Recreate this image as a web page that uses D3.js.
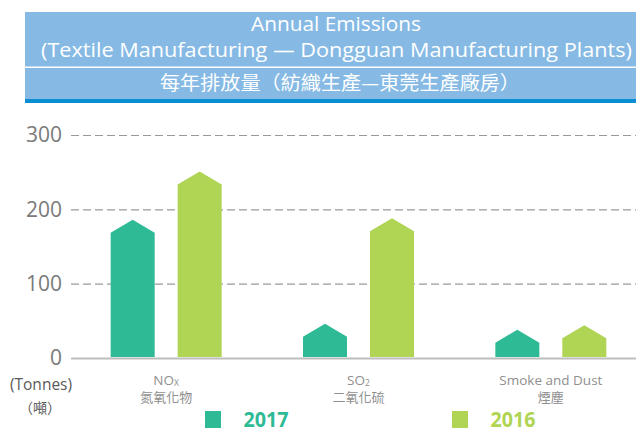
<!DOCTYPE html>
<html>
<head>
<meta charset="utf-8">
<script src="https://d3js.org/d3.v7.min.js"></script>
<style>
  body { margin: 0; background: #fff; }
  svg text { font-family: "Open Sans", "Noto Sans", sans-serif; }
  .cjk { font-family: "Noto Sans CJK TC", "Noto Sans CJK SC", sans-serif; }
</style>
</head>
<body>
<div id="chart"></div>
<script>
  // ---- data ----
  var categories = ["NOx", "SO2", "Smoke and Dust"];
  var categoryZh = ["氮氧化物", "二氧化硫", "煙塵"];
  var series = ["2017", "2016"];
  var values2017 = [186, 46, 38];
  var values2016 = [251, 188, 44];
  var yTicks = [0, 100, 200, 300];
  var colors = { "2017": "#2dba94", "2016": "#b0d453" };

  var W = 636, H = 428;
  var svg = d3.select("#chart").append("svg")
    .attr("width", W)
    .attr("height", H);

  // ---- header ----
  svg.append("rect").attr("x", 25).attr("y", 12).attr("width", W - 25).attr("height", 91).attr("fill", "#86bae4");
  svg.append("rect").attr("x", 25).attr("y", 66.5).attr("width", W - 25).attr("height", 1.5).attr("fill", "#ffffff");
  svg.append("rect").attr("x", 25).attr("y", 99).attr("width", W - 25).attr("height", 4).attr("fill", "#0a8ed3");

  svg.append("text").attr("x", 336).attr("y", 31)
    .attr("text-anchor", "middle").attr("fill", "#fff").attr("font-size", 20)
    .attr("textLength", 170).attr("lengthAdjust", "spacingAndGlyphs")
    .text("Annual Emissions");
  svg.append("text").attr("x", 336.5).attr("y", 57)
    .attr("text-anchor", "middle").attr("fill", "#fff").attr("font-size", 20)
    .attr("textLength", 591).attr("lengthAdjust", "spacingAndGlyphs")
    .text("(Textile Manufacturing \u2014 Dongguan Manufacturing Plants)");
  svg.append("text").attr("class", "cjk").attr("x", 340).attr("y", 90)
    .attr("text-anchor", "middle").attr("fill", "#fff").attr("font-size", 19)
    .attr("textLength", 360).attr("lengthAdjust", "spacingAndGlyphs")
    .text("每年排放量（紡織生產—東莞生產廠房）");

  // ---- scales ----
  var left = 71, bottom = 358;
  var y = d3.scaleLinear().domain([0, 300]).range([bottom, 135]);
  var x0 = d3.scaleBand().domain(categories).range([70, 647]);
  var x1 = d3.scaleBand().domain(series).range([-55.5, 55.5]).paddingInner(0.343);

  // grid + y labels
  var yAxis = svg.append("g")
    .attr("transform", "translate(" + left + ",0)")
    .call(d3.axisLeft(y).tickValues(yTicks).tickSize(-(W - left)).tickPadding(9));
  yAxis.select(".domain").remove();
  yAxis.selectAll(".tick line")
    .attr("stroke", "#9a9a9a")
    .attr("stroke-width", 1.2)
    .attr("stroke-dasharray", "8,4")
    .filter(function(d) { return d === 0; })
    .attr("stroke", "#bdbdbd")
    .attr("stroke-width", 2)
    .attr("stroke-dasharray", null);
  yAxis.selectAll(".tick text")
    .attr("fill", "#7a7a7a")
    .attr("font-size", 21)
    .attr("font-family", "'Open Sans', sans-serif");

  // ---- bars with pointed tops ----
  var rows = [];
  categories.forEach(function(c, i) {
    rows.push({ cat: c, s: "2017", v: values2017[i] });
    rows.push({ cat: c, s: "2016", v: values2016[i] });
  });
  var roof = 13;

  svg.append("g").selectAll("path")
    .data(rows)
    .enter().append("path")
    .attr("fill", function(d) { return colors[d.s]; })
    .attr("d", function(d) {
      var cx = x0(d.cat) + x0.bandwidth() / 2;
      var xl = cx + x1(d.s), w = x1.bandwidth();
      var yp = y(d.v), ys = yp + roof;
      return "M" + xl + "," + (bottom - 1) + "L" + xl + "," + ys + "L" + (xl + w / 2) + "," + yp +
        "L" + (xl + w) + "," + ys + "L" + (xl + w) + "," + (bottom - 1) + "Z";
    });

  // ---- category labels ----
  var lab = svg.append("g").selectAll("g")
    .data(categories)
    .enter().append("g")
    .attr("transform", function(d) { return "translate(" + (x0(d) + x0.bandwidth() / 2) + ",0)"; });

  lab.append("text")
    .attr("y", 385).attr("text-anchor", "middle").attr("fill", "#8f8f8f").attr("font-size", 13.5)
    .each(function(d) {
      var t = d3.select(this);
      if (d === "NOx") {
        t.append("tspan").text("NO");
        t.append("tspan").attr("font-size", 8.5).attr("dy", 1).text("X");
      } else if (d === "SO2") {
        t.append("tspan").text("SO");
        t.append("tspan").attr("font-size", 8.5).attr("dy", 1).text("2");
      } else {
        t.text(d);
      }
    });
  lab.append("text").attr("class", "cjk")
    .attr("y", 402).attr("text-anchor", "middle").attr("fill", "#8f8f8f").attr("font-size", 13)
    .text(function(d, i) { return categoryZh[i]; });

  // unit
  svg.append("text").attr("x", 41).attr("y", 390).attr("text-anchor", "middle")
    .attr("fill", "#5a5a5a").attr("font-size", 15.5).text("(Tonnes)");
  svg.append("text").attr("class", "cjk").attr("x", 40).attr("y", 413).attr("text-anchor", "middle")
    .attr("fill", "#5a5a5a").attr("font-size", 14).text("（噸）");

  // ---- legend ----
  var legX = { "2017": 205, "2016": 452 };
  var leg = svg.append("g").selectAll("g")
    .data(series)
    .enter().append("g")
    .attr("transform", function(d) { return "translate(" + legX[d] + ",411)"; });
  leg.append("rect").attr("width", 16).attr("height", 17)
    .attr("fill", function(d) { return colors[d]; });
  leg.append("text").attr("x", 38.5).attr("y", 16)
    .attr("font-size", 22).attr("font-weight", "bold")
    .attr("textLength", 45).attr("lengthAdjust", "spacingAndGlyphs")
    .attr("fill", function(d) { return colors[d]; })
    .text(function(d) { return d; });
</script>
</body>
</html>
